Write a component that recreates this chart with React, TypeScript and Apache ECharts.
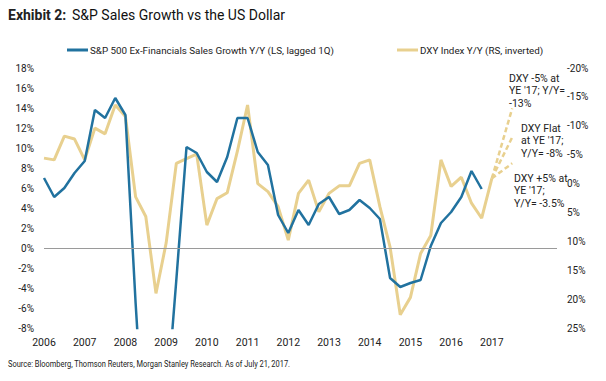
import React, { useEffect, useRef } from "react";
import * as echarts from "echarts";

// Quarterly x positions (decimal years)
const quarters: number[] = [];
for (let y = 2006; y <= 2017; y++) for (let q = 0; q < 4; q++) quarters.push(y + q * 0.25);

// S&P 500 Ex-Financials Sales Growth Y/Y (LS, lagged 1Q), 2006Q1 .. 2016Q4
const spSales = [
  7.0, 5.1, 6.0, 7.5,
  8.7, 13.8, 13.0, 15.0,
  13.3, -5.5, -22, -20,
  -16, -3.2, 10.1, 9.5,
  7.6, 6.6, 9.1, 13.0,
  13.0, 9.6, 8.3, 3.3,
  1.5, 3.8, 2.3, 4.4,
  5.1, 3.4, 3.8, 4.8,
  4.0, 2.9, -3.0, -3.9,
  -3.5, -3.2, 0.2, 2.5,
  3.6, 5.1, 7.7, 5.9,
];

// DXY Index Y/Y (RS, inverted), 2006Q1 .. 2017Q1
const dxy = [
  -4.4, -4.1, -8.2, -7.7,
  -4.1, -9.6, -8.6, -13.6,
  -11.6, 2.3, 5.7, 19.0,
  10.3, -3.5, -4.3, -5.1,
  7.2, 2.6, 1.6, -5.6,
  -13.6, 0.0, 1.4, 4.0,
  9.8, 1.7, -0.6, 4.9,
  1.7, 0.4, 0.4, -3.5,
  -4.1, 4.0, 11.0, 22.7,
  19.7, 12.1, 9.0, -4.1,
  0.5, -1.1, 3.4, 6.0,
  -0.9,
];

// Projection scenarios (start = last DXY point, end at mid-2017)
const projX = [2017.0, 2017.5];
const projWeak = [-0.9, -13];
const projFlat = [-0.9, -8];
const projStrong = [-0.9, -3.5];

const yearLabels = [2006, 2007, 2008, 2009, 2010, 2011, 2012, 2013, 2014, 2015, 2016, 2017];

const BLUE = "#21729f";
const TAN = "#e8d08f";
const FONT = "Roboto";

const spName = "S&P 500 Ex-Financials Sales Growth Y/Y (LS, lagged 1Q)";
const dxyName = "DXY Index Y/Y (RS, inverted)";

export default function App() {
  const ref = useRef<HTMLDivElement>(null);
  useEffect(() => {
    if (!ref.current) return;
    const chart = echarts.init(ref.current, undefined, { renderer: "svg" });
    const pair = (xs: number[], ys: number[]) => ys.map((v, i) => [xs[i], v]);
    const annoStyle = { fill: "#222", fontSize: 10.5, fontFamily: FONT, lineHeight: 12.5 };
    chart.setOption({
      animation: false,
      backgroundColor: "#fff",
      textStyle: { fontFamily: FONT },
      grid: { left: 44, right: 49, top: 68, bottom: 53, containLabel: false },
      legend: [
        {
          data: [spName],
          left: 62,
          top: 40,
          itemWidth: 21,
          itemHeight: 3,
          itemGap: 0,
          icon: "rect",
          textStyle: { fontSize: 9.8, color: "#222", fontFamily: FONT, padding: [0, 0, 0, -3] },
        },
        {
          data: [dxyName],
          left: 392,
          top: 40,
          itemWidth: 21,
          itemHeight: 3,
          icon: "rect",
          textStyle: { fontSize: 9.8, color: "#222", fontFamily: FONT, padding: [0, 0, 0, -3] },
        },
      ],
      graphic: [
        {
          type: "text",
          left: 8,
          top: 8,
          style: { text: "Exhibit 2:", fontSize: 14, fontWeight: "bold", fill: "#222", fontFamily: FONT },
        },
        {
          type: "text",
          left: 72,
          top: 8,
          style: { text: "S&P Sales Growth vs the US Dollar", fontSize: 14, fill: "#111", fontFamily: FONT },
        },
        {
          type: "text",
          x: 8,
          y: 359,
          scaleX: 0.83,
          style: {
            text: "Source: Bloomberg, Thomson Reuters, Morgan Stanley Research. As of July 21, 2017.",
            fontSize: 9,
            fill: "#222",
            fontFamily: FONT,
            verticalAlign: "top",
          },
        },
        { type: "text", left: 509, top: 72, style: { ...annoStyle, text: "DXY -5% at\nYE '17; Y/Y=\n-13%" } },
        { type: "text", left: 521, top: 122, style: { ...annoStyle, text: "DXY Flat\nat YE '17;\nY/Y= -8%" } },
        { type: "text", left: 514, top: 172, style: { ...annoStyle, text: "DXY +5% at\nYE '17;\nY/Y= -3.5%" } },
      ],
      xAxis: {
        type: "value",
        min: 2006,
        max: 2018.6,
        interval: 1,
        axisLine: { show: false },
        axisTick: { show: false },
        splitLine: { show: false },
        axisLabel: {
          margin: 9,
          fontSize: 10.5,
          color: "#222",
          fontFamily: FONT,
          showMaxLabel: false,
          formatter: (v: number) => (yearLabels.includes(Math.round(v)) && Math.abs(v - Math.round(v)) < 1e-6 ? String(Math.round(v)) : ""),
        },
      },
      yAxis: [
        {
          type: "value",
          min: -8,
          max: 18,
          interval: 2,
          axisLine: { show: false },
          axisTick: { show: false },
          splitLine: { show: false },
          axisLabel: { margin: 10, fontSize: 10, color: "#222", fontFamily: FONT, formatter: (v: number) => `${v}%` },
        },
        {
          type: "value",
          min: -20,
          max: 25,
          interval: 5,
          inverse: true,
          position: "right",
          axisLine: { show: false },
          axisTick: { show: false },
          splitLine: { show: false },
          axisLabel: { margin: 10, fontSize: 10, color: "#222", fontFamily: FONT, formatter: (v: number) => `${v}%` },
        },
      ],
      series: [
        {
          name: dxyName,
          type: "line",
          yAxisIndex: 1,
          data: pair(quarters, dxy),
          showSymbol: false,
          symbol: "none",
          lineStyle: { color: TAN, width: 3 },
          itemStyle: { color: TAN },
          z: 2,
        },
        {
          name: spName,
          type: "line",
          yAxisIndex: 0,
          data: pair(quarters, spSales),
          showSymbol: false,
          symbol: "none",
          lineStyle: { color: BLUE, width: 2.5 },
          itemStyle: { color: BLUE },
          z: 3,
          markLine: {
            silent: true,
            symbol: "none",
            label: { show: false },
            lineStyle: { color: "#9a9a9a", width: 1.2, type: "solid" },
            data: [{ yAxis: 0 }],
          },
        },
        ...[projWeak, projFlat, projStrong].map((p) => ({
          type: "line",
          yAxisIndex: 1,
          data: pair(projX, p),
          symbol: "none",
          lineStyle: { color: TAN, width: 2.5, type: [5, 3] },
          z: 2,
        })),
      ],
    });
    return () => chart.dispose();
  }, []);
  return <div ref={ref} style={{ width: 606, height: 381, position: "absolute", left: 0, top: 0 }} />;
}
